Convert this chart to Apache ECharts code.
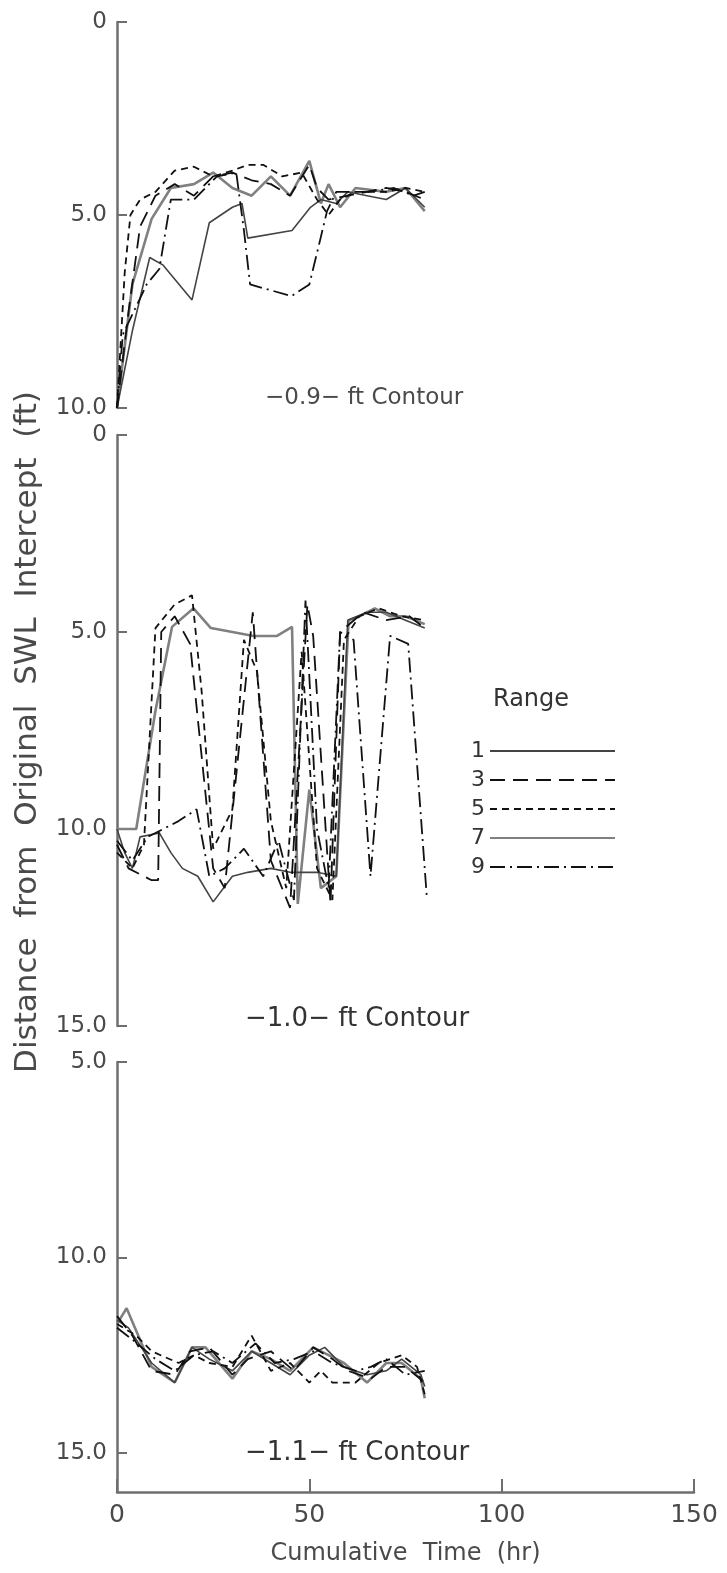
<!DOCTYPE html>
<html>
<head>
<meta charset="utf-8">
<script src="https://cdn.jsdelivr.net/npm/echarts@6/dist/echarts.min.js"></script>
<style>
  html, body { margin: 0; padding: 0; background: #fff; }
  #chart { width: 727px; height: 1573px; }
</style>
</head>
<body>
<div id="chart"></div>
<script>
// ---------- data (x = cumulative time hr, y = distance ft) ----------
const rangeNames = ['1', '3', '5', '7', '9'];
const xTicks = [0, 50, 100, 150];
const panelTitles = ['\u22120.9\u2212 ft Contour', '\u22121.0\u2212 ft Contour', '\u22121.1\u2212 ft Contour'];
const axisTitle = 'Distance  from  Original  SWL  Intercept  (ft)';
const xTitle = 'Cumulative  Time  (hr)';

// Panel 1: -0.9-ft contour
const p1r1 = [[0,10],[4,8],[8.5,6.1],[12,6.3],[19.5,7.2],[24,5.2],[30,4.8],[32.5,4.7],[34,5.6],[45.5,5.4],[50.3,4.8],[53,4.6],[57,4.7],[60,4.4],[65,4.5],[70,4.6],[75,4.3],[80,4.8]];
const p1r3 = [[0,10],[3,7.5],[6,5.3],[10,4.5],[15,4.2],[20,4.5],[25,4.0],[30,3.9],[35,4.1],[40,4.2],[45,4.5],[50,3.7],[52,4.3],[55,4.6],[60,4.5],[65,4.4],[70,4.3],[75,4.4],[80,4.6]];
const p1r5 = [[0,10],[2,6.5],[3.5,5.0],[6,4.6],[10,4.4],[15,3.85],[20,3.75],[25,4.0],[30,3.85],[34,3.7],[38,3.7],[43,4.0],[48,3.9],[52,4.6],[55,5.0],[58,4.6],[62,4.4],[70,4.4],[75,4.3],[80,4.4]];
const p1r7 = [[0,10],[4,6.8],[9,5.1],[14,4.3],[20,4.2],[25,3.9],[30,4.3],[35,4.5],[40,4.0],[45,4.5],[50,3.6],[53,4.7],[55,4.2],[58,4.8],[62,4.3],[70,4.4],[75,4.3],[80,4.9]];
const p1r9 = [[0,10],[1.5,8.1],[7.7,6.8],[11,6.4],[14,4.6],[20,4.6],[26,4.0],[31,3.9],[33,5.4],[34.6,6.8],[45.4,7.1],[50,6.8],[52.8,5.65],[54.6,4.9],[57,4.4],[65,4.4],[72,4.3],[77,4.5],[80,4.4]];

// Panel 2: -1.0-ft contour
const p2r1 = [[0,10.0],[2,10.6],[4,11.0],[6,10.2],[11,10.1],[14,10.6],[17,11.0],[21,11.2],[25,11.85],[30,11.2],[34,11.1],[40,11.0],[45,11.1],[52,11.1],[57,11.2],[60,4.7],[65,4.5],[70,4.5],[75,4.7],[80,4.9]];
const p2r3 = [[0,10.4],[3,11.0],[9,11.3],[10.7,11.3],[11.5,5.0],[15,4.6],[19,5.3],[25,11.0],[28,11.5],[35.3,4.5],[40,10.8],[45,12.0],[49.5,4.3],[51,5.1],[55.5,11.9],[58,5.0],[64,4.5],[70,4.7],[76,4.6],[80,4.9]];
const p2r5 = [[0,10.6],[4,11.0],[7,10.4],[10,4.9],[15,4.3],[19.5,4.07],[22,6.5],[25,10.5],[30,9.5],[33,5.2],[36.4,6.0],[40,9.8],[44,11.5],[48,5.5],[52,11.0],[56,11.8],[59,5.2],[63,4.6],[68,4.4],[74,4.6],[80,4.7]];
const p2r7 = [[0,10.0],[5,10.0],[10,7.0],[14.3,4.87],[19.9,4.4],[24.4,4.9],[30,5.0],[35.5,5.1],[41.6,5.1],[45.5,4.87],[47,11.9],[50,9.0],[53,11.5],[57,11.2],[60.2,4.7],[63,4.6],[67,4.4],[71,4.6],[75,4.6],[80,4.8]];
const p2r9 = [[0,10.3],[4,10.8],[8,10.2],[12,10.0],[16,9.8],[20.7,9.5],[24,11.2],[28,11.0],[33,10.5],[38,11.2],[42,10.3],[46,11.8],[49,4.2],[52,10.0],[55,11.5],[58,5.0],[61.5,5.2],[65.9,11.2],[71,5.1],[75.7,5.3],[80.6,11.8]];

// Panel 3: -1.1-ft contour
const p3r1 = [[0,11.6],[3,11.8],[9,12.7],[15,13.2],[19.5,12.3],[24,12.6],[30,12.9],[35,12.4],[40,12.7],[45,13.0],[50,12.5],[54,12.3],[59,12.8],[65,13.0],[70,12.9],[74,12.6],[79,13.0],[80,13.3]];
const p3r3 = [[0,11.5],[4,12.0],[9,12.9],[15,13.0],[19,12.4],[24,12.3],[30,13.0],[34,12.6],[40,12.4],[46,12.9],[51,12.3],[56,12.6],[60,12.9],[66,13.1],[70,12.8],[75,12.8],[80,13.2]];
const p3r5 = [[0,11.7],[5,12.0],[9,12.4],[16,12.7],[20,12.5],[24,12.7],[30,12.8],[35,12.0],[40,12.9],[45,12.7],[50,13.2],[53,12.9],[56,13.2],[62,13.2],[68,12.7],[74,12.5],[78,12.8],[80,13.5]];
const p3r7 = [[0,11.7],[2.5,11.3],[9,12.8],[15,13.2],[19.5,12.3],[23,12.3],[30,13.1],[35,12.4],[40,12.6],[45,12.9],[51,12.3],[55,12.5],[59,12.7],[65,13.2],[70,12.7],[74,12.7],[79,13.1],[80,13.6]];
const p3r9 = [[0,11.8],[4,12.1],[10,12.6],[15,12.9],[20,12.5],[25,12.4],[30,12.7],[36,12.2],[41,12.7],[46,12.6],[51,12.4],[56,12.7],[62,12.9],[66,12.8],[70,12.6],[75,13.0],[80,12.9]];

const panelData = [
  [p1r1, p1r3, p1r5, p1r7, p1r9],
  [p2r1, p2r3, p2r5, p2r7, p2r9],
  [p3r1, p3r3, p3r5, p3r7, p3r9]
];
const yMins = [0, 0, 5];
const yMaxs = [10, 15, 16];
const yTickVals = [[0, 5, 10], [0, 5, 10, 15], [5, 10, 15]];

// ---------- styles ----------
const FONT = 'DejaVu Sans';
const TXT = '#4a4a4a';
const AX = '#6e6e6e';
const lineStyles = [
  { type: 'solid', color: '#444444', width: 1.6 },
  { type: [15, 8], color: '#111111', width: 1.8 },
  { type: [7, 5], color: '#111111', width: 1.8 },
  { type: 'solid', color: '#808080', width: 2.6 },
  { type: [15, 5, 2, 5], color: '#111111', width: 1.8 }
];
const grids = [
  { left: 117, width: 577, top: 22, height: 386 },
  { left: 117, width: 577, top: 435, height: 591 },
  { left: 117, width: 577, top: 1062, height: 430 }
];

const xAxes = grids.map((g, i) => ({
  type: 'value', gridIndex: i, min: 0, max: 150, interval: 50,
  show: i === 2,
  position: 'bottom',
  axisLine: { show: true, onZero: false, lineStyle: { color: AX, width: 2.5 } },
  axisTick: { show: true, inside: true, length: 13, lineStyle: { color: AX, width: 2 },
              customValues: xTicks },
  splitLine: { show: false },
  axisLabel: { show: true, margin: 11, color: TXT, fontSize: 25, fontFamily: FONT, customValues: xTicks },
  name: i === 2 ? xTitle : '', nameLocation: 'middle', nameGap: 50,
  nameTextStyle: { color: TXT, fontSize: 24, fontFamily: FONT }
}));

const yAxes = grids.map((g, i) => ({
  type: 'value', gridIndex: i, inverse: true,
  min: yMins[i], max: yMaxs[i], interval: 5,
  axisLine: { show: true, lineStyle: { color: AX, width: 2.5 } },
  axisTick: { show: true, inside: true, length: 10, lineStyle: { color: AX, width: 2 },
              customValues: yTickVals[i] },
  splitLine: { show: false },
  axisLabel: {
    color: TXT, fontSize: 23, fontFamily: FONT, margin: 10,
    customValues: yTickVals[i],
    formatter: v => (v === 0 ? '0' : v.toFixed(1))
  }
}));

const series = [];
panelData.forEach((panel, p) => {
  panel.forEach((d, r) => {
    series.push({
      type: 'line', name: rangeNames[r], xAxisIndex: p, yAxisIndex: p,
      data: d, symbol: 'none', showSymbol: false,
      itemStyle: { color: lineStyles[r].color, opacity: 0 },
      lineStyle: lineStyles[r], silent: true, z: r === 3 ? 2 : 3
    });
  });
});

const graphics = [
  { type: 'text', x: 28, y: 732, rotation: Math.PI / 2,
    style: { text: axisTitle, fill: TXT, font: '31px "' + FONT + '"', textAlign: 'center', textVerticalAlign: 'middle' } },
  { type: 'text', x: 265, y: 398,
    style: { text: panelTitles[0], fill: TXT, font: '23px "' + FONT + '"', textAlign: 'left', textVerticalAlign: 'middle' } },
  { type: 'text', x: 245, y: 1019,
    style: { text: panelTitles[1], fill: '#333', font: '26px "' + FONT + '"', textAlign: 'left', textVerticalAlign: 'middle' } },
  { type: 'text', x: 245, y: 1453,
    style: { text: panelTitles[2], fill: '#333', font: '26px "' + FONT + '"', textAlign: 'left', textVerticalAlign: 'middle' } },
  { type: 'text', x: 493, y: 700,
    style: { text: 'Range', fill: '#333', font: '24px "' + FONT + '"', textAlign: 'left', textVerticalAlign: 'middle' } }
];

const chart = echarts.init(document.getElementById('chart'), null, { renderer: 'canvas' });
chart.setOption({
  animation: false,
  backgroundColor: '#ffffff',
  grid: grids,
  xAxis: xAxes,
  yAxis: yAxes,
  legend: {
    data: rangeNames, orient: 'vertical', left: 466, top: 735,
    align: 'right', itemWidth: 125, itemHeight: 14, itemGap: 7,
    itemStyle: { opacity: 0 },
    textStyle: { color: '#333', fontSize: 22, fontFamily: FONT },
    selectedMode: false
  },
  graphic: graphics,
  series: series
});
</script>
</body>
</html>
